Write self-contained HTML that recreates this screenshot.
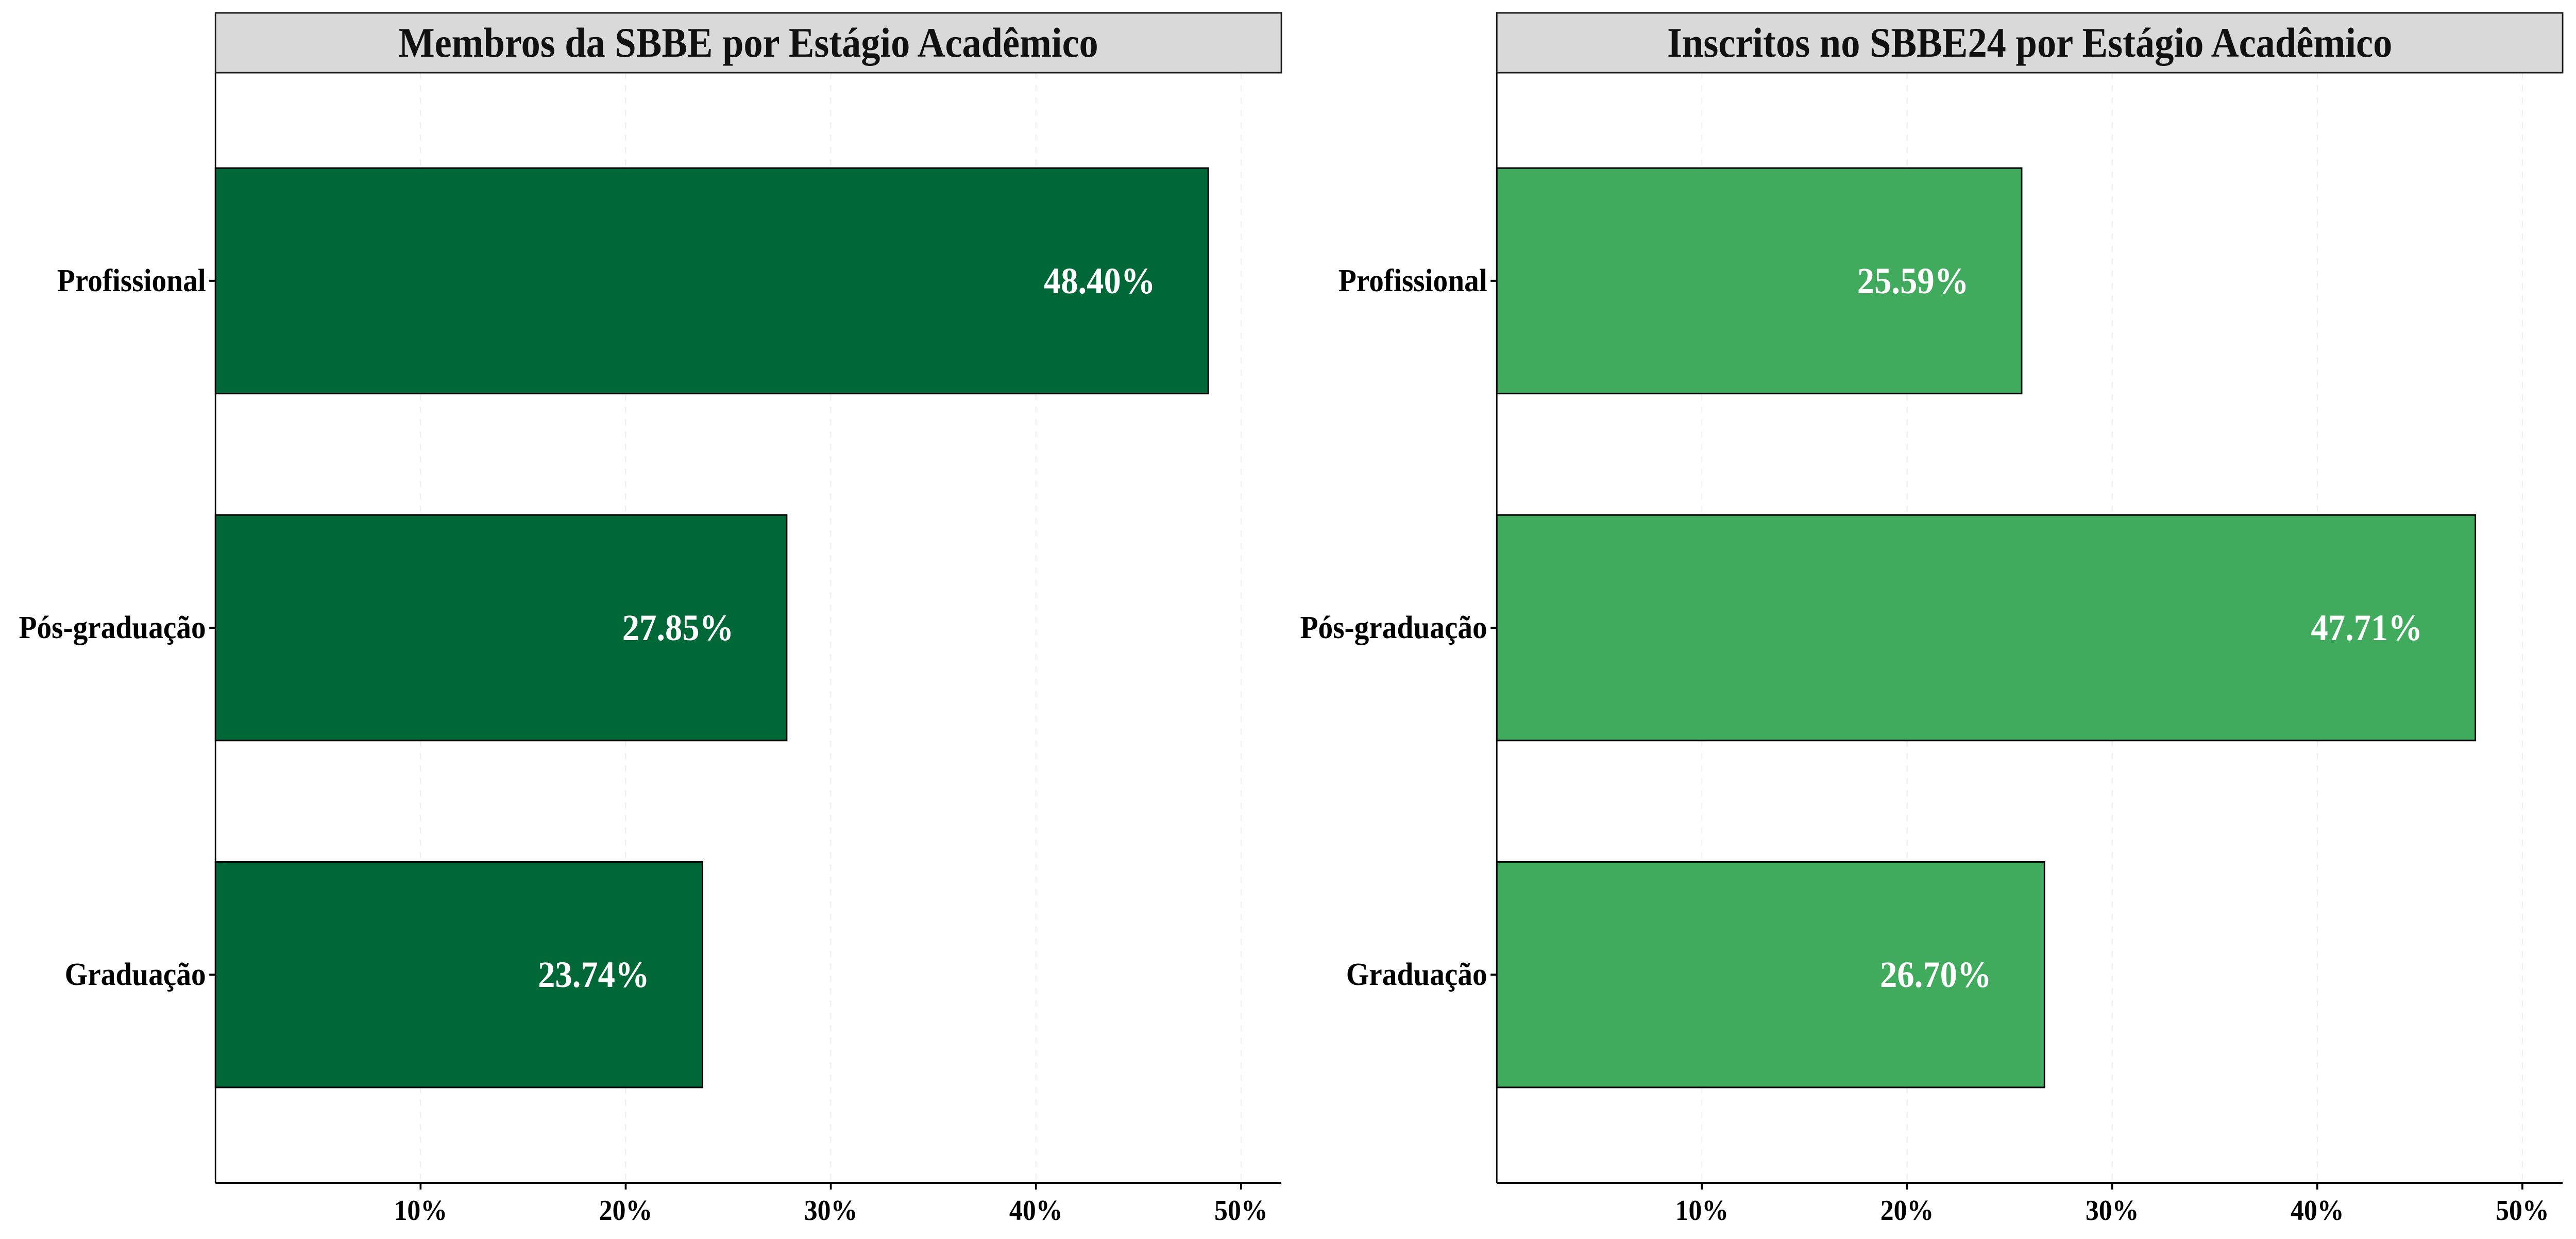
<!DOCTYPE html>
<html><head><meta charset="utf-8"><style>
html,body{margin:0;padding:0;background:#fff;overflow:hidden;width:100%;height:100%;}
svg{display:block;font-family:"Liberation Serif",serif;width:100vw;height:100vh;}
</style></head><body>
<svg id="chart" viewBox="0 0 5404 2404" preserveAspectRatio="none" xmlns="http://www.w3.org/2000/svg"></svg>
<script>
const categories = ["Profissional", "Pós-graduação", "Graduação"];
const membrosValues = [48.40, 27.85, 23.74];
const inscritosValues = [25.59, 47.71, 26.70];
const xTicks = [10, 20, 30, 40, 50];
const xTickLabels = ["10%", "20%", "30%", "40%", "50%"];
const titles = ["Membros da SBBE por Estágio Acadêmico", "Inscritos no SBBE24 por Estágio Acadêmico"];

const NS = "http://www.w3.org/2000/svg";
const svgEl = document.getElementById("chart");
function mk(tag, attrs, parent) {
  const e = document.createElementNS(NS, tag);
  for (const k in attrs) e.setAttribute(k, attrs[k]);
  parent.appendChild(e);
  return e;
}
const plotTop = 141, plotBottom = 2295, panelWidth = 2236;
const step = (plotBottom - plotTop) / (categories.length - 1 + 1.2);
const pxPerUnit = 43.03;

function drawPanel(left, values, color, title, idx, titleLen) {
  const g = mk("g", {}, svgEl);
  
  
  const xS = v => left + v * pxPerUnit;
  const yS = i => plotTop + step * (0.6 + i);
  xTicks.forEach(t => {
    const l = mk("line", {x1: xS(t), x2: xS(t), y1: plotTop, y2: plotBottom, stroke: "#ececec", "stroke-width": 2, "stroke-dasharray": "12,12"}, g);
    
    
  });
  const hdr = mk("rect", {x: left, y: 25, width: panelWidth, height: plotTop - 25, fill: "#d9d9d9", stroke: "#1a1a1a", "stroke-width": 3}, g);
  
  
  const tt = mk("text", {x: left + panelWidth / 2, y: 110, "text-anchor": "middle", "font-size": 82, "font-weight": "bold", fill: "#111", textLength: titleLen, lengthAdjust: "spacingAndGlyphs"}, g);
  tt.textContent = title;
  
  
  const bh = step * 0.65;
  values.forEach((v, i) => {
    const r = mk("rect", {x: xS(0), y: yS(i) - bh / 2, width: xS(v) - xS(0), height: bh, fill: color, stroke: "#000", "stroke-width": 3}, g);
    
    
    const lb = mk("text", {x: xS(v - 5.3), y: yS(i) + 24, "text-anchor": "middle", "font-size": 72, "font-weight": "bold", fill: "#fff"}, g);
    lb.textContent = v.toFixed(2) + "%";
    
    
    const tk = mk("line", {x1: left - 13, x2: left, y1: yS(i), y2: yS(i), stroke: "#000", "stroke-width": 4}, g);
    
    
    const yl = mk("text", {x: left - 20, y: yS(i) + 20, "text-anchor": "end", "font-size": 62, "font-weight": "bold", fill: "#000"}, g);
    yl.textContent = categories[i];
    
    
  });
  const ay = mk("line", {x1: left, x2: left, y1: plotTop, y2: plotBottom, stroke: "#000", "stroke-width": 3}, g);
  
  
  const ax = mk("line", {x1: left, x2: left + panelWidth, y1: plotBottom, y2: plotBottom, stroke: "#000", "stroke-width": 4}, g);
  
  
  xTicks.forEach((t, j) => {
    const tk = mk("line", {x1: xS(t), x2: xS(t), y1: plotBottom, y2: plotBottom + 13, stroke: "#000", "stroke-width": 4}, g);
    
    
    const tl = mk("text", {x: xS(t), y: plotBottom + 72, "text-anchor": "middle", "font-size": 56, "font-weight": "bold", fill: "#000"}, g);
    tl.textContent = xTickLabels[j];
    
    
  });
}
drawPanel(452, membrosValues, "#006837", titles[0], 0, 1468);
drawPanel(3140, inscritosValues, "#41AB5D", titles[1], 1, 1521);
</script>
</body></html>
